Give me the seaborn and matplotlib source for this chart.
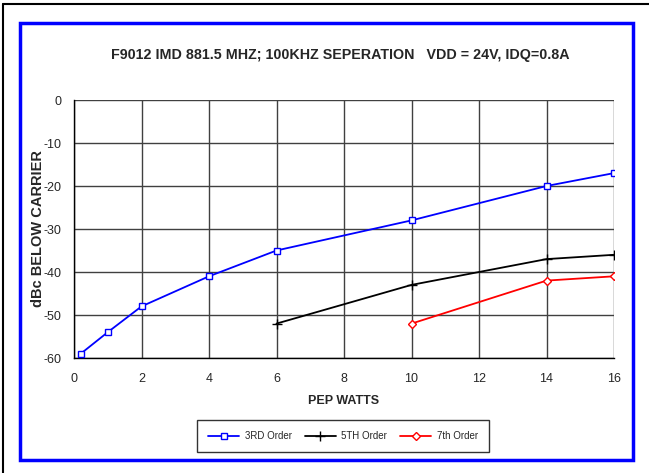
import matplotlib
matplotlib.use("Agg")
import matplotlib.pyplot as plt
import seaborn as sns
import pandas as pd
from matplotlib.lines import Line2D
from matplotlib.patches import Rectangle

# Data
x_3rd = [0.2, 1, 2, 4, 6, 10, 14, 16]
y_3rd = [-59, -54, -48, -41, -35, -28, -20, -17]
x_5th = [6, 10, 14, 16]
y_5th = [-52, -43, -37, -36]
x_7th = [10, 14, 16]
y_7th = [-52, -42, -41]
series_names = ["3RD Order", "5TH Order", "7th Order"]
x_ticks = [0, 2, 4, 6, 8, 10, 12, 14, 16]
y_ticks = [0, -10, -20, -30, -40, -50, -60]

df = pd.concat([
    pd.DataFrame({"x": x_3rd, "y": y_3rd, "s": series_names[0]}),
    pd.DataFrame({"x": x_5th, "y": y_5th, "s": series_names[1]}),
    pd.DataFrame({"x": x_7th, "y": y_7th, "s": series_names[2]}),
])

sns.set_style("white")
plt.rcParams['font.family'] = ['Liberation Sans', 'DejaVu Sans']

W, H = 649, 473
fig = plt.figure(figsize=(W / 100, H / 100), dpi=100)
ax = fig.add_axes([74 / W, 1 - 358 / H, 540 / W, 258 / H])

colors = {"3RD Order": "#0000FF", "5TH Order": "#000000", "7th Order": "#FF0000"}
markers = {"3RD Order": "s", "5TH Order": "+", "7th Order": "D"}
msizes = {"3RD Order": 5, "5TH Order": 7, "7th Order": 4}

for name in series_names:
    sub = df[df["s"] == name]
    sns.lineplot(data=sub, x="x", y="y", ax=ax, color=colors[name], lw=1.3,
                 marker=markers[name], markersize=msizes[name],
                 markerfacecolor="white" if name != "5TH Order" else colors[name],
                 markeredgecolor=colors[name], markeredgewidth=1.0,
                 legend=False, zorder=3)

ax.set_xlim(0, 16)
ax.set_ylim(-60, 0)
ax.set_xticks(x_ticks)
ax.set_yticks(y_ticks)
ax.set_xticklabels([str(v) for v in x_ticks], fontsize=9)
ax.set_yticklabels([str(v) for v in y_ticks], fontsize=9)
ax.grid(True, color="#404040", lw=1.0)
ax.set_axisbelow(True)
for side in ["top", "right"]:
    ax.spines[side].set_visible(False)
for side in ["left", "bottom"]:
    ax.spines[side].set_color("black")
    ax.spines[side].set_linewidth(1.0)
ax.tick_params(axis="y", direction="out", length=4, width=1, color="black", pad=5)
ax.tick_params(axis="x", direction="in", length=0, pad=11)
ax.set_xlabel("PEP WATTS", fontsize=9, fontweight="bold", labelpad=7)
ax.set_ylabel("dBc BELOW CARRIER", fontsize=10.5, fontweight="bold")
ax.yaxis.set_label_coords((45 - 74) / 540, 0.5)

fig.text(340 / W, 1 - 55 / H, "F9012 IMD 881.5 MHZ; 100KHZ SEPERATION   VDD = 24V, IDQ=0.8A",
         ha="center", va="center", fontsize=10.3, fontweight="bold")

# borders
fig.add_artist(Line2D([3 / W, 1], [1 - 4 / H, 1 - 4 / H], color="black", lw=1.5, transform=fig.transFigure))
fig.add_artist(Line2D([3 / W, 3 / W], [0, 1 - 4 / H], color="black", lw=1.5, transform=fig.transFigure))
fig.add_artist(Rectangle((20 / W, 1 - 460 / H), 613 / W, 437 / H, fill=False,
                         edgecolor="#0000FF", lw=2.5, transform=fig.transFigure))

# legend
handles = [Line2D([], [], color=colors[n], lw=1.3, marker=markers[n], markersize=msizes[n],
                  markerfacecolor="white" if n != "5TH Order" else colors[n],
                  markeredgecolor=colors[n]) for n in series_names]
leg = fig.legend(handles, series_names, loc="center", bbox_to_anchor=(343 / W, 1 - 436 / H),
                 ncol=3, fontsize=7, frameon=True, fancybox=False, edgecolor="black",
                 handlelength=3.2, columnspacing=1.3, borderpad=1.1, handletextpad=0.6)
leg.get_frame().set_linewidth(1.0)

fig.savefig("out.png", dpi=100)
